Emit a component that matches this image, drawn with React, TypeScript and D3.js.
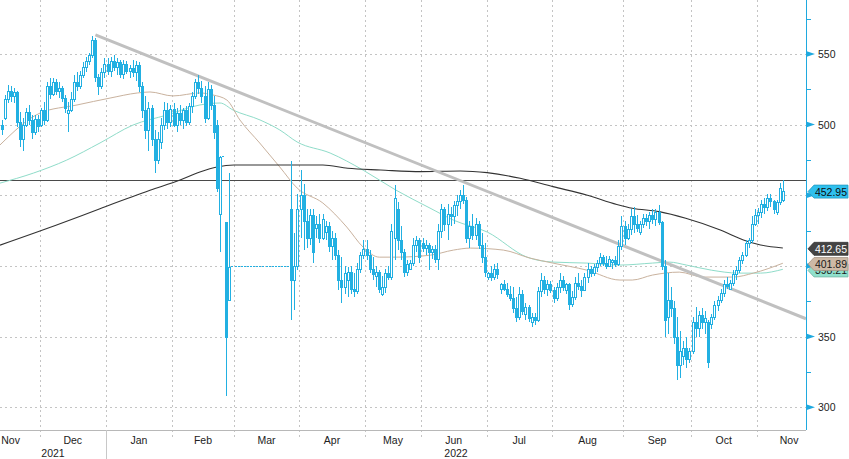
import React from 'react';
import * as d3 from 'd3';

type OHLC = [number, number, number, number];

// ---- Candles by month: [open, high, low, close] ----
const nov21: OHLC[] = [
  [500, 503, 493, 497], [505, 521, 503, 518], [518, 528, 515, 524], [524, 527, 516, 520],
  [520, 526, 515, 523], [523, 524, 498, 502], [502, 509, 484, 490], [490, 505, 481, 500],
  [500, 512, 498, 509], [509, 514, 500, 503], [503, 507, 490, 495], [495, 507, 493, 504],
  [504, 507, 495, 499],
];
const dec21: OHLC[] = [
  [500, 512, 498, 510], [510, 516, 500, 503], [503, 530, 502, 527], [527, 533, 518, 522],
  [522, 533, 520, 530], [530, 532, 521, 524], [524, 530, 519, 526], [526, 527, 516, 519],
  [519, 521, 508, 512], [508, 516, 495, 510], [510, 523, 509, 518], [518, 535, 516, 530],
  [530, 537, 524, 527], [527, 538, 525, 535], [535, 544, 533, 541], [541, 548, 537, 545],
  [545, 551, 542, 549], [549, 563, 547, 560], [560, 561, 530, 534], [534, 536, 521, 527],
  [527, 540, 525, 537], [537, 547, 533, 543],
];
const jan22: OHLC[] = [
  [543, 547, 535, 538], [538, 548, 534, 545], [545, 549, 538, 541], [541, 547, 535, 544],
  [544, 546, 533, 536], [536, 546, 532, 543], [543, 545, 536, 538], [538, 542, 533, 540],
  [540, 546, 534, 537], [537, 545, 531, 542], [542, 544, 523, 527], [527, 530, 505, 510],
  [510, 520, 490, 496], [496, 516, 481, 512], [512, 514, 485, 490], [490, 496, 466, 475],
  [475, 495, 472, 490], [488, 505, 483, 500], [500, 516, 496, 510], [510, 515, 497, 502],
  [502, 514, 498, 511],
];
const feb22: OHLC[] = [
  [511, 515, 498, 500], [500, 512, 495, 508], [508, 514, 500, 503], [503, 512, 497, 510],
  [510, 513, 499, 502], [502, 515, 500, 513], [513, 523, 508, 520], [520, 532, 518, 530],
  [530, 535, 522, 526], [526, 531, 515, 520], [520, 527, 501, 505], [505, 530, 503, 525],
  [525, 528, 510, 514], [514, 520, 490, 495], [500, 503, 452, 455], [437, 478, 410, 477],
  [478, 478, 478, 478], [431, 431, 308, 350], [376, 466, 376, 399], [400, 400, 400, 400],
];
const mar22: OHLC[] = [
  [400, 400, 400, 400], [400, 400, 400, 400], [400, 400, 400, 400], [400, 400, 400, 400],
  [400, 400, 400, 400], [400, 400, 400, 400], [400, 400, 400, 400], [400, 400, 400, 400],
  [400, 400, 400, 400], [400, 400, 400, 400], [400, 400, 400, 400], [400, 400, 400, 400],
  [400, 400, 400, 400], [400, 400, 400, 400], [400, 400, 400, 400], [400, 400, 400, 400],
  [400, 400, 400, 400], [400, 400, 400, 400], [440, 474, 362, 390], [390, 423, 369, 400],
  [400, 451, 397, 440],
];
const apr22: OHLC[] = [
  [440, 468, 420, 450], [450, 458, 411, 432], [432, 440, 413, 420], [420, 440, 415, 436],
  [436, 440, 402, 410], [427, 435, 420, 430], [430, 437, 416, 420], [420, 437, 418, 433],
  [424, 432, 418, 428], [428, 431, 410, 414], [414, 425, 404, 420], [420, 423, 404, 408],
  [408, 411, 383, 390], [390, 406, 374, 385], [385, 400, 380, 395], [390, 399, 378, 396],
  [396, 400, 380, 384], [384, 395, 378, 382], [382, 402, 380, 398], [398, 410, 395, 408],
  [408, 418, 405, 412],
];
const may22: OHLC[] = [
  [412, 418, 404, 408], [408, 411, 395, 398], [398, 406, 390, 394], [393, 400, 385, 396],
  [396, 397, 381, 384], [380, 393, 379, 385], [385, 398, 381, 395], [395, 400, 390, 392],
  [392, 430, 390, 425], [420, 457, 404, 448], [440, 445, 411, 418], [418, 428, 404, 410],
  [410, 412, 392, 396], [396, 404, 393, 401], [398, 404, 397, 402], [402, 420, 400, 415],
  [415, 421, 410, 418], [418, 420, 402, 406],
];
const jun22: OHLC[] = [
  [416, 420, 410, 413], [413, 418, 408, 415], [415, 416, 397, 410], [410, 414, 405, 412],
  [412, 415, 402, 405], [405, 430, 397, 425], [425, 444, 420, 440], [440, 442, 425, 430],
  [430, 444, 418, 437], [437, 442, 428, 435], [435, 446, 430, 443], [443, 450, 435, 446],
  [446, 454, 440, 450], [450, 457, 444, 447], [447, 449, 416, 420], [420, 432, 413, 428],
  [428, 437, 418, 422], [422, 434, 418, 430], [430, 432, 412, 415], [415, 423, 402, 406],
  [406, 416, 392, 396],
];
const jul22: OHLC[] = [
  [392, 396, 390, 395], [395, 400, 389, 392], [392, 401, 390, 398], [398, 402, 391, 394],
  [384, 388, 380, 387], [387, 390, 382, 384], [384, 388, 378, 380], [380, 386, 375, 377],
  [377, 385, 367, 370], [370, 378, 360, 364], [364, 385, 362, 380], [380, 383, 365, 368],
  [366, 374, 362, 371], [371, 372, 360, 363], [360, 367, 357, 364], [364, 367, 358, 362],
  [362, 385, 360, 382], [382, 395, 378, 390], [390, 393, 380, 384], [384, 390, 379, 387],
  [387, 389, 381, 383],
];
const aug22: OHLC[] = [
  [383, 385, 374, 377], [377, 388, 375, 385], [385, 395, 381, 390], [390, 393, 382, 385],
  [383, 388, 380, 387], [387, 388, 369, 373], [373, 382, 371, 378], [378, 392, 376, 388],
  [388, 395, 383, 386], [386, 390, 378, 383], [383, 395, 382, 392], [392, 402, 388, 398],
  [398, 400, 392, 395], [395, 401, 393, 399], [399, 404, 396, 402], [402, 409, 400, 406],
  [406, 408, 400, 402], [402, 407, 398, 400], [400, 407, 399, 405], [403, 405, 398, 404],
  [404, 407, 399, 401], [401, 418, 400, 414], [414, 435, 411, 428],
];
const sep22: OHLC[] = [
  [428, 432, 415, 420], [420, 430, 418, 426], [426, 440, 422, 435], [435, 442, 423, 430],
  [430, 436, 424, 427], [424, 432, 422, 430], [430, 437, 427, 434], [434, 437, 428, 432],
  [432, 438, 426, 436], [436, 440, 430, 433], [433, 440, 428, 438], [438, 443, 429, 431],
  [431, 432, 397, 400], [400, 404, 350, 362], [364, 395, 352, 376], [376, 385, 364, 370],
  [370, 375, 345, 350], [350, 364, 319, 330], [330, 354, 321, 340], [336, 347, 330, 342],
  [342, 350, 328, 334], [334, 342, 331, 340],
];
const oct22: OHLC[] = [
  [340, 364, 338, 360], [360, 371, 350, 356], [356, 368, 350, 365], [365, 370, 355, 360],
  [360, 368, 352, 363], [360, 362, 328, 332], [359, 366, 355, 364], [364, 375, 362, 372],
  [372, 379, 368, 376], [376, 384, 374, 381], [381, 390, 378, 387], [387, 392, 384, 386],
  [384, 390, 383, 388], [388, 397, 386, 394], [394, 400, 390, 397], [397, 406, 395, 404],
  [404, 410, 401, 408], [408, 418, 406, 416], [416, 420, 413, 418], [418, 435, 416, 430],
  [430, 440, 428, 436],
];
const nov22: OHLC[] = [
  [436, 441, 430, 438], [438, 447, 434, 444], [444, 448, 437, 442], [442, 451, 439, 448],
  [448, 451, 442, 446], [446, 447, 437, 440], [438, 447, 436, 445], [445, 459, 443, 455],
  [447, 461, 445, 452.95],
];

const months = [nov21, dec21, jan22, feb22, mar22, apr22, may22, jun22, jul22, aug22, sep22, oct22, nov22];
const monthNames = ['Nov', 'Dec', 'Jan', 'Feb', 'Mar', 'Apr', 'May', 'Jun', 'Jul', 'Aug', 'Sep', 'Oct', 'Nov'];
const monthFullLen = [19, 22, 21, 20, 21, 21, 18, 21, 21, 23, 22, 21, 21];
const years = ['2021', '2022'];

// axis labels; 400 and 450 sit under the value tags in the reference
const yMajor = [300, 350, 400, 450, 500, 550];
const yLabelled = [300, 350, 500, 550];
const yMinor = [325, 375, 425, 475, 525, 575];

// Moving averages: [trading-day position, value]
const maSlow: [number, number][] = [
  [0, 414.7], [20, 430], [33, 440.5], [49, 453.5], [58.6, 460.8], [65, 466.4], [70.5, 470],
  [76, 471.4], [104.6, 471.4], [112.5, 469.1], [123, 467.9], [136, 466.7], [148.6, 467.2],
  [157.2, 466], [167.8, 462], [178.3, 456.1], [189.2, 450.2], [199, 443.5], [204, 440.8],
  [212.7, 438.4], [221.3, 433.7], [232.4, 425.4], [239.8, 418.4], [245.3, 414.8], [252.5, 412.65],
];
const maFast: [number, number][] = [
  [0, 485.6], [13.2, 508.2], [25.4, 513.9], [36.3, 518.8], [45, 522.4], [49, 523.1], [56.3, 520.3],
  [65, 522.4], [69.2, 521], [73.7, 517.4], [77.9, 503.3], [84.3, 487], [90.8, 470], [96.4, 455.1],
  [104.6, 444.5], [112.2, 427.5], [117.4, 413.3], [122.6, 406.2], [128, 406.2], [139, 407.6],
  [146.4, 411.2], [151.8, 412.6], [162.4, 411.2], [171, 405.5], [178.3, 402], [189.3, 397],
  [200, 390], [204, 390], [210.5, 393.5], [219.2, 395.6], [226.9, 392.1], [236.5, 392.1],
  [243, 394.9], [252.5, 401.89],
];
const maMid: [number, number][] = [
  [0, 458.6], [11, 465.7], [22, 474.9], [33, 487], [43.6, 499.7], [54.4, 506.8], [65, 513.9],
  [71.5, 515.3], [75.7, 510.3], [84.4, 503.3], [90.8, 496.2], [96.4, 487.7], [106.9, 479.9],
  [117.4, 467.8], [127.9, 453.7], [138.9, 440.9], [146.4, 432.4], [157.3, 423.9], [170, 406.2],
  [178.3, 402.7], [189.3, 402], [200, 400.6], [210.5, 402], [216, 402.7], [221.5, 400.6],
  [229.5, 397], [238.2, 394.9], [245.3, 394.9], [252.5, 397.6],
];
const trendAnchors: [number, number][] = [[31.5, 563.5], [64.5, 534.4]];
const hLevel = 461;
const tagValues = [398.21, 401.89, 412.65, 452.95];

// ---- layout ----
const W = 849;
const H = 459;
const plotRight = 806;
const plotBottom = 430;
const boundaryPx = [0, 39.5, 106, 172, 234, 299, 365, 421, 486.5, 552, 623, 691, 756.5, 784.4];

const CANDLE = '#22b0e2';
const AXIS = '#1fa9df';
const GRID = '#c4c4c4';
const FONT = 'Liberation Sans, Arial, sans-serif';

export default function App() {
  const candles: OHLC[] = months.flat();
  const starts: number[] = [];
  let acc = 0;
  months.forEach((m) => { starts.push(acc); acc += m.length; });
  const bounds = [...starts, acc];

  const x = d3.scaleLinear().domain(bounds).range(boundaryPx);
  const y = d3.scaleLinear().domain([283.86, 588.2]).range([plotBottom, 0]);

  const maLine = d3.line<[number, number]>()
    .x((d) => x(d[0]))
    .y((d) => y(d[1]))
    .curve(d3.curveMonotoneX);

  // trendline extended to the plot edge
  const [a1, a2] = trendAnchors;
  const tx1 = x(a1[0]), ty1 = y(a1[1]);
  const tx2 = x(a2[0]), ty2 = y(a2[1]);
  const slope = (ty2 - ty1) / (tx2 - tx1);
  const tyEnd = ty1 + slope * (plotRight - tx1);

  const gridX = bounds.slice(1, bounds.length - 1).map((b) => x(b));
  const yearSepX = x(starts[2]);

  const monthLabelX = months.map((m, i) => {
    if (i === 0) return x(bounds[1] - monthFullLen[0] / 2);
    return x(starts[i] + monthFullLen[i] / 2);
  });
  const yearLabelX = [(0 + yearSepX) / 2, (yearSepX + plotRight) / 2];

  const tagStyles = [
    { fill: '#8fe0cc', text: '#1a1a1a', dy: 2 },
    { fill: '#cdb9a6', text: '#1a1a1a', dy: 0.8 },
    { fill: '#444444', text: '#ffffff', dy: 0.8 },
    { fill: '#2fc0ee', text: '#0d0d0d', dy: 0.5 },
  ];

  const tag = (v: number, i: number) => {
    const st = tagStyles[i];
    const yc = y(v) + st.dy;
    const h = 6.5;
    const pts = [
      [808, yc], [814, yc - h], [848, yc - h], [848, yc + h], [814, yc + h],
    ].map((p) => p.join(',')).join(' ');
    return (
      <g key={'tag' + i}>
        <polygon points={pts} fill={st.fill} stroke={d3.color(st.fill)!.darker(0.6).toString()} strokeWidth={0.8} />
        <text x={831} y={yc} fill={st.text} fontSize={10.5} textAnchor="middle" dominantBaseline="central"
          fontFamily={FONT}>{v.toFixed(2)}</text>
      </g>
    );
  };

  return (
    <svg width={W} height={H} style={{ position: 'absolute', left: 0, top: 0, background: '#fff' }}>
      <rect x={0} y={0} width={W} height={H} fill="#ffffff" />
      {/* grid */}
      <g stroke={GRID} strokeWidth={1} strokeDasharray="2,3" shapeRendering="crispEdges">
        {yMajor.map((v) => (
          <line key={'gy' + v} x1={0} x2={plotRight} y1={Math.round(y(v)) + 0.5} y2={Math.round(y(v)) + 0.5} />
        ))}
        {gridX.map((gx, i) => (
          <line key={'gx' + i} x1={Math.round(gx) + 0.5} x2={Math.round(gx) + 0.5} y1={0} y2={437} />
        ))}
      </g>
      {/* bottom axis */}
      <line x1={0} x2={plotRight} y1={plotBottom + 0.5} y2={plotBottom + 0.5} stroke="#b8b8b8" strokeWidth={1} />
      <line x1={Math.round(yearSepX) + 0.5} x2={Math.round(yearSepX) + 0.5} y1={plotBottom} y2={H} stroke="#c8c8c8" strokeWidth={1} />
      <g fontFamily={FONT} fontSize={10.5} fill="#222" textAnchor="middle">
        {monthNames.map((n, i) => (
          <text key={'m' + i} x={monthLabelX[i]} y={439.5} dominantBaseline="central">{n}</text>
        ))}
        {years.map((yr, i) => (
          <text key={'yr' + i} x={yearLabelX[i]} y={452.5} dominantBaseline="central">{yr}</text>
        ))}
      </g>

      {/* horizontal level */}
      <line x1={0} x2={plotRight} y1={Math.round(y(hLevel)) + 0.5} y2={Math.round(y(hLevel)) + 0.5} stroke="#4a4a4a" strokeWidth={1} />

      {/* moving averages */}
      <path d={maLine(maMid) || ''} fill="none" stroke="#8fdcc9" strokeWidth={1} />
      <path d={maLine(maFast) || ''} fill="none" stroke="#c9b29e" strokeWidth={1} />
      <path d={maLine(maSlow) || ''} fill="none" stroke="#333333" strokeWidth={1.1} />

      {/* trendline */}
      <line x1={tx1} y1={ty1} x2={plotRight} y2={tyEnd} stroke="#c0c0c0" strokeWidth={3} />

      {/* candles */}
      <g shapeRendering="crispEdges">
        {candles.map((c, i) => {
          const [o, hi, lo, cl] = c;
          const cx = Math.round(x(i + 0.5));
          if (hi === lo) {
            const yy = Math.round(y(cl)) + 0.5;
            return <line key={'c' + i} x1={cx - 1} x2={cx + 1} y1={yy} y2={yy} stroke={CANDLE} strokeWidth={1} />;
          }
          const up = cl >= o;
          const yTop = Math.round(y(Math.max(o, cl)));
          const yBot = Math.round(y(Math.min(o, cl)));
          return (
            <g key={'c' + i}>
              <line x1={cx + 0.5} x2={cx + 0.5} y1={y(hi)} y2={y(lo)} stroke={CANDLE} strokeWidth={1} />
              <rect x={cx - 0.5} y={yTop + 0.5} width={2} height={Math.max(1, yBot - yTop)}
                fill={up ? '#ffffff' : CANDLE} stroke={CANDLE} strokeWidth={1} />
            </g>
          );
        })}
      </g>

      {/* right axis */}
      <line x1={plotRight + 0.5} x2={plotRight + 0.5} y1={0} y2={plotBottom} stroke={AXIS} strokeWidth={1} />
      {yMinor.map((v) => (
        <line key={'mn' + v} x1={plotRight} x2={plotRight + 5} y1={Math.round(y(v)) + 0.5} y2={Math.round(y(v)) + 0.5} stroke={AXIS} strokeWidth={1} />
      ))}
      {yMajor.map((v) => {
        const yy = y(v);
        return (
          <g key={'mj' + v}>
            <polygon points={`${plotRight},${yy - 3} ${plotRight + 9},${yy} ${plotRight},${yy + 3}`} fill={AXIS} />
            {yLabelled.includes(v) && (
              <text x={818} y={yy} fontSize={10.5} fill="#222" dominantBaseline="central"
                fontFamily={FONT}>{v}</text>
            )}
          </g>
        );
      })}

      {/* value tags */}
      {tagValues.map((v, i) => tag(v, i))}
    </svg>
  );
}
